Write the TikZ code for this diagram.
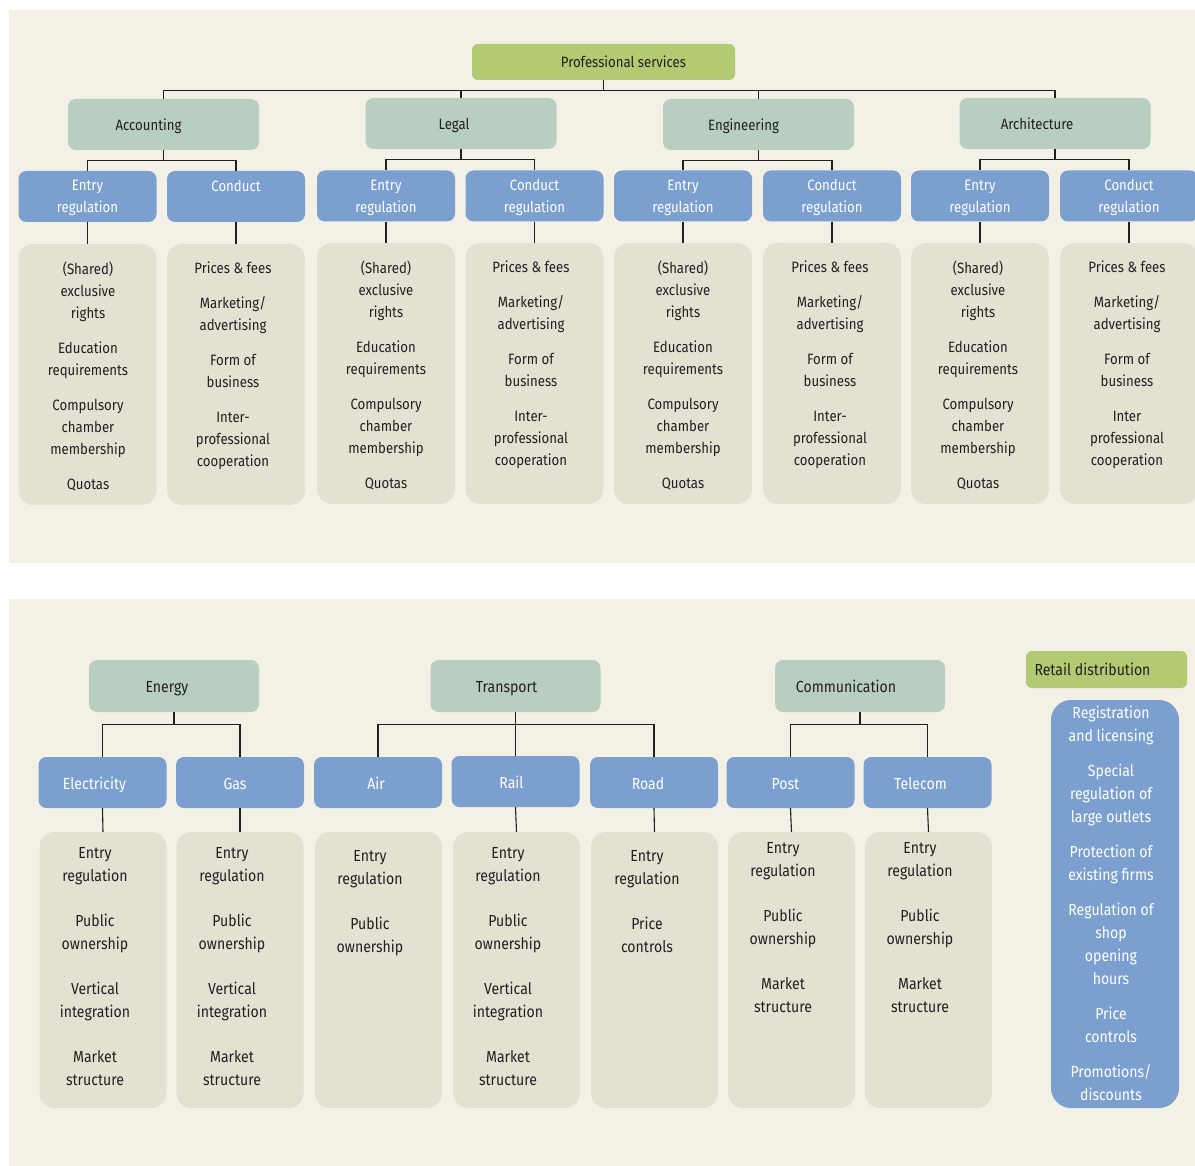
\documentclass[tikz,border=0pt]{standalone}
\usepackage{fontspec}
\setmainfont[FakeStretch=0.88]{Fira Sans}

\definecolor{panelbg}{HTML}{F3F1E5}
\definecolor{catgreen}{HTML}{B8CEC0}
\definecolor{topgreen}{HTML}{B2CA71}
\definecolor{regblue}{HTML}{7BA0D0}
\definecolor{listgray}{HTML}{E4E1D2}
\definecolor{inkdark}{HTML}{231F20}

\newcommand{\entrylist}{(Shared)\\exclusive\\rights\\[13pt]Education\\requirements\\[13pt]Compulsory\\chamber\\membership\\[13pt]Quotas}
\newcommand{\conductlist}[1]{Prices \& fees\\[13pt]Marketing/\\advertising\\[13pt]Form of\\business\\[13pt]#1\\professional\\cooperation}

\begin{document}
\begin{tikzpicture}[x=1pt,y=-1pt,
    conn/.style={draw=inkdark,line width=1.1pt},
    head/.style={fill=topgreen,rounded corners=6pt,text=inkdark,text height=12pt,text depth=0pt,font=\fontsize{15}{17}\selectfont},
    cat/.style={fill=catgreen,rounded corners=8pt,minimum width=191pt,minimum height=51pt,text=inkdark,text height=12pt,text depth=0pt,font=\fontsize{15}{17}\selectfont},
    bigcat/.style={cat,minimum width=170pt,minimum height=52pt,text height=13pt,font=\fontsize{16}{20}\selectfont},
    reg/.style={fill=regblue,rounded corners=8pt,minimum width=138pt,minimum height=51pt,text=white,align=center,text depth=0pt,font=\fontsize{15}{22}\selectfont},
    bigreg/.style={reg,minimum width=128pt,text height=14pt,font=\fontsize{16}{20}\selectfont},
    listbox/.style={fill=listgray,rounded corners=15pt,minimum width=138pt,minimum height=261pt},
    biglistbox/.style={listbox,minimum width=127pt,minimum height=276pt},
    listtext/.style={anchor=north,inner sep=0pt,align=center,text=inkdark,font=\fontsize{15}{22}\selectfont},
    biglisttext/.style={listtext,font=\fontsize{16}{23}\selectfont}]
\useasboundingbox (0,0) rectangle (1195,1166);
\fill[panelbg] (9,10) rectangle (1195,563);
\fill[panelbg] (9,599) rectangle (1195,1166);

% professional services
\node[head,minimum width=263pt,minimum height=36pt] (pro) at (603.5,62) {\hspace*{40pt}Professional services};
\begin{scope}[every node/.style={cat}]
    \node (acc) at (163.5,124.5) {Accounting\hspace*{30pt}};
    \node (leg) at (461,123.5) {Legal\hspace*{14pt}};
    \node (eng) at (758.5,124.5) {Engineering\hspace*{30pt}};
    \node (arc) at (1055,123.5) {Architecture\hspace*{36pt}};
\end{scope}
\begin{scope}[every node/.style={reg}]
    \node (acce) at (87.5,196.5) {Entry\\regulation};
    \node (accc) at (236,196.5) {Conduct\\\mbox{}};
    \node (lege) at (386,196) {Entry\\regulation};
    \node (legc) at (534.5,196) {Conduct\\regulation};
    \node (enge) at (683,196) {Entry\\regulation};
    \node (engc) at (832,196) {Conduct\\regulation};
    \node (arce) at (980,196) {Entry\\regulation};
    \node (arcc) at (1129,196) {Conduct\\regulation};
\end{scope}
\begin{scope}[every node/.style={listbox}]
    \node (acceg) at (87.5,374.5) {};
    \node (acccg) at (236,374.5) {};
    \node (legeg) at (386,373.5) {};
    \node (legcg) at (534.5,373.5) {};
    \node (engeg) at (683,373.5) {};
    \node (engcg) at (832,373.5) {};
    \node (arceg) at (980,373.5) {};
    \node (arccg) at (1129,373.5) {};
\end{scope}
\begin{scope}[every node/.style={listtext}]
    \node (accet) at (88,262) {\entrylist};
    \node (accct) at (233,262) {\conductlist{Inter-}};
    \node (leget) at (386,261) {\entrylist};
    \node (legct) at (531,261) {\conductlist{Inter-}};
    \node (enget) at (683,261) {\entrylist};
    \node (engct) at (830,261) {\conductlist{Inter-}};
    \node (arcet) at (978,261) {\entrylist};
    \node (arcct) at (1127,261) {\conductlist{Inter}};
\end{scope}
\draw[conn] (pro.south) -- ++(0,10) -| (acc.north);
\draw[conn] (pro.south) -- ++(0,10) -| (leg.north);
\draw[conn] (pro.south) -- ++(0,10) -| (eng.north);
\draw[conn] (pro.south) -- ++(0,10) -| (arc.north);
\draw[conn] (acc.south) -- ++(0,10) -| (acce.north);
\draw[conn] (acc.south) -- ++(0,10) -| (accc.north);
\draw[conn] (leg.south) -- ++(0,10) -| (lege.north);
\draw[conn] (leg.south) -- ++(0,10) -| (legc.north);
\draw[conn] (eng.south) -- ++(0,10) -| (enge.north);
\draw[conn] (eng.south) -- ++(0,10) -| (engc.north);
\draw[conn] (arc.south) -- ++(0,10) -| (arce.north);
\draw[conn] (arc.south) -- ++(0,10) -| (arcc.north);
\draw[conn] (acce.south) -- (acceg.north);
\draw[conn] (accc.south) -- (acccg.north);
\draw[conn] (lege.south) -- (legeg.north);
\draw[conn] (legc.south) -- (legcg.north);
\draw[conn] (enge.south) -- (engeg.north);
\draw[conn] (engc.south) -- (engcg.north);
\draw[conn] (arce.south) -- (arceg.north);
\draw[conn] (arcc.south) -- (arccg.north);

% network industries
\begin{scope}[every node/.style={bigcat}]
    \node (ene) at (174,686) {\hspace*{-14pt}Energy};
    \node (tra) at (515.5,686) {Transport\hspace*{18pt}};
    \node (com) at (860,686) {Communication\hspace*{28pt}};
\end{scope}
\begin{scope}[every node/.style={bigreg}]
    \node (ele) at (102.5,782.5) {Electricity\hspace*{16pt}};
    \node (gas) at (240,782.5) {Gas\hspace*{10pt}};
    \node (air) at (378,782.5) {Air\hspace*{4pt}};
    \node (rai) at (515.5,781.5) {Rail\hspace*{8pt}};
    \node (roa) at (654,782.5) {Road\hspace*{12pt}};
    \node (pos) at (790.5,782.5) {Post\hspace*{10pt}};
    \node (tel) at (927.5,782.5) {Telecom\hspace*{14pt}};
\end{scope}
\begin{scope}[every node/.style={biglistbox}]
    \node (eleg) at (103,970) {};
    \node (gasg) at (240,970) {};
    \node (airg) at (378.5,970) {};
    \node (raig) at (516.5,970) {};
    \node (roag) at (654.5,970) {};
    \node (posg) at (791.5,970) {};
    \node (telg) at (928.5,970) {};
\end{scope}
\begin{scope}[every node/.style={biglisttext}]
    \node (elet) at (95,847) {Entry\\regulation\\[22pt]Public\\ownership\\[22pt]Vertical\\integration\\[22pt]Market\\structure};
    \node (gast) at (232,847) {Entry\\regulation\\[22pt]Public\\ownership\\[22pt]Vertical\\integration\\[22pt]Market\\structure};
    \node (airt) at (370,850) {Entry\\regulation\\[22pt]Public\\ownership};
    \node (rait) at (508,847) {Entry\\regulation\\[22pt]Public\\ownership\\[22pt]Vertical\\integration\\[22pt]Market\\structure};
    \node (roat) at (647,850) {Entry\\regulation\\[22pt]Price\\controls};
    \node (post) at (783,842) {Entry\\regulation\\[22pt]Public\\ownership\\[22pt]Market\\structure};
    \node (telt) at (920,842) {Entry\\regulation\\[22pt]Public\\ownership\\[22pt]Market\\structure};
\end{scope}
\draw[conn] (ene.south) -- ++(0,12) -| (ele.north);
\draw[conn] (ene.south) -- ++(0,12) -| (gas.north);
\draw[conn] (tra.south) -- ++(0,12) -| (air.north);
\draw[conn] (tra.south) -- ++(0,12) -| (rai.north);
\draw[conn] (tra.south) -- ++(0,12) -| (roa.north);
\draw[conn] (com.south) -- ++(0,12) -| (pos.north);
\draw[conn] (com.south) -- ++(0,12) -| (tel.north);
\draw[conn] (ele.south) -- (eleg.north);
\draw[conn] (gas.south) -- (gasg.north);
\draw[conn] (rai.south) -- (raig.north);
\draw[conn] (roa.south) -- (roag.north);
\draw[conn] (pos.south) -- (posg.north);
\draw[conn] (tel.south) -- (telg.north);

% retail distribution
\node[head,minimum width=161pt,minimum height=37pt,font=\fontsize{16}{20}\selectfont] (ret) at (1106.5,669.5) {Retail distribution\hspace*{28pt}};
\node[fill=regblue,rounded corners=20pt,minimum width=128pt,minimum height=408pt] (retb) at (1115,904) {};
\node[biglisttext,text=white] (rett) at (1111,706) {Registration\\and licensing\\[12pt]Special\\regulation of\\large outlets\\[12pt]Protection of\\existing firms\\[12pt]Regulation of\\shop\\opening\\hours\\[12pt]Price\\controls\\[12pt]Promotions/\\discounts};
\end{tikzpicture}
\end{document}
